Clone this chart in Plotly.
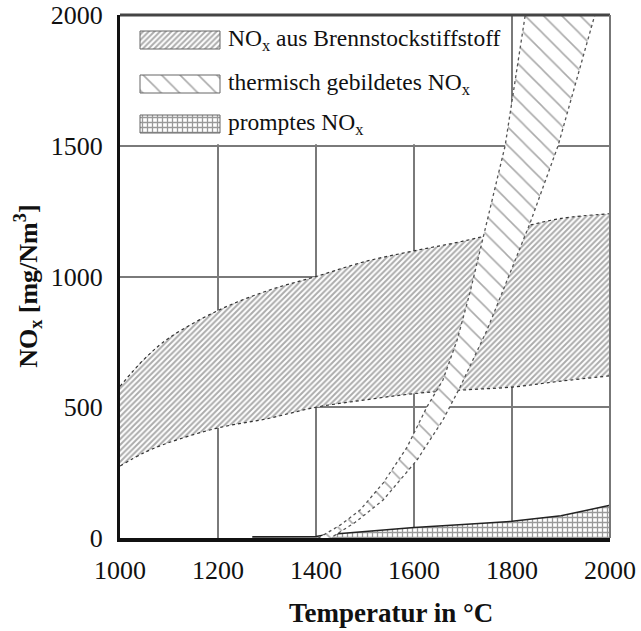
import plotly.graph_objects as go

# ---------------- data ----------------
fuel_T = [1000, 1050, 1100, 1200, 1300, 1400, 1500, 1600, 1700, 1800, 1900, 2000]
fuel_upper = [580, 685, 765, 870, 945, 1000, 1057, 1098, 1135, 1180, 1222, 1240]
fuel_lower = [275, 327, 365, 421, 456, 500, 528, 552, 566, 577, 600, 620]

thermal_hi_T = [1405, 1450, 1490, 1537, 1586, 1626, 1659, 1688, 1714, 1741, 1786, 1827, 1840]
thermal_hi = [0, 50, 107, 210, 348, 500, 604, 757, 937, 1151, 1500, 2000, 2150]
thermal_lo_T = [1430, 1480, 1537, 1606, 1659, 1694, 1749, 1782, 1837, 1894, 1969, 1990]
thermal_lo = [0, 60, 145, 298, 451, 577, 795, 948, 1205, 1500, 2000, 2150]

prompt_T = [1270, 1400, 1420, 1500, 1600, 1700, 1800, 1900, 1950, 2000]
prompt_val = [5, 6, 12, 24, 40, 52, 64, 85, 105, 125]

x_ticks = [1000, 1200, 1400, 1600, 1800, 2000]
y_ticks = [0, 500, 1000, 1500, 2000]

legend_labels = ["NO<sub>x</sub> aus Brennstockstiffstoff",
                 "thermisch gebildetes NO<sub>x</sub>",
                 "promptes NO<sub>x</sub>"]

FONT = "Liberation Serif"

pat_fuel = dict(shape="/", size=4, solidity=0.5, fgcolor="#5a5a5a", bgcolor="white")
pat_therm = dict(shape="\\", size=13, solidity=0.12, fgcolor="#555555", bgcolor="white")
pat_prompt = dict(shape="+", size=5, solidity=0.45, fgcolor="#333333", bgcolor="white")

fig = go.Figure()

# fuel NOx band
fig.add_trace(go.Scatter(x=fuel_T, y=fuel_lower, mode="lines",
                         line=dict(color="#333333", width=1.2, dash="dot", shape="spline"),
                         showlegend=False, hoverinfo="skip"))
fig.add_trace(go.Scatter(x=fuel_T, y=fuel_upper, mode="lines", fill="tonexty",
                         fillpattern=pat_fuel, fillcolor="white",
                         line=dict(color="#333333", width=1.2, dash="dot", shape="spline"),
                         showlegend=False, name="fuel"))

# prompt NOx
fig.add_trace(go.Scatter(x=prompt_T, y=prompt_val, mode="lines", fill="tozeroy",
                         fillpattern=pat_prompt, fillcolor="white",
                         line=dict(color="#222222", width=1.5),
                         showlegend=False, name="prompt"))

# thermal NOx band
therm_x = thermal_hi_T + thermal_lo_T[::-1]
therm_y = thermal_hi + thermal_lo[::-1]
fig.add_trace(go.Scatter(x=therm_x, y=therm_y, mode="lines", fill="toself",
                         fillpattern=pat_therm, fillcolor="white",
                         line=dict(color="#555555", width=1.3, dash="dot"),
                         showlegend=False, name="thermal"))

# ---------------- custom legend on overlay axes (pixel units of plot area) -------------
sw_x0, sw_x1 = 20, 100
rows = [25, 69, 109]
pats = [pat_fuel, pat_therm, pat_prompt]
for yc, pat, lab in zip(rows, pats, legend_labels):
    fig.add_trace(go.Scatter(x=[sw_x0, sw_x1, sw_x1, sw_x0, sw_x0],
                             y=[yc - 9, yc - 9, yc + 9, yc + 9, yc - 9],
                             xaxis="x2", yaxis="y2", mode="lines", fill="toself",
                             fillpattern=pat, fillcolor="white",
                             line=dict(color="#666666", width=1),
                             showlegend=False, hoverinfo="skip"))
    fig.add_annotation(x=106, y=yc, xref="x2", yref="y2", text=lab, showarrow=False,
                       xanchor="left", yanchor="middle",
                       font=dict(family=FONT, size=23.5, color="#111111"))

# white legend background (above grid, below traces)
fig.add_shape(type="rect", x0=1000, x1=1796, y0=1506, y1=2000, xref="x", yref="y",
              fillcolor="white", line=dict(width=0), layer="between")

# frame top / right
fig.add_shape(type="line", x0=0, x1=1, y0=1, y1=1, xref="paper", yref="paper",
              line=dict(color="#444444", width=3))
fig.add_shape(type="line", x0=1, x1=1, y0=0, y1=1, xref="paper", yref="paper",
              line=dict(color="#777777", width=2))

# axis titles
fig.add_annotation(x=-0.188, y=0.482, xref="paper", yref="paper", textangle=-90,
                   text="<b>NO<sub>x</sub> [mg/Nm<sup>3</sup>]</b>", showarrow=False,
                   xanchor="center", yanchor="middle",
                   font=dict(family=FONT, size=26, color="#111111"))
fig.add_annotation(x=0.553, y=-0.144, xref="paper", yref="paper",
                   text="<b>Temperatur in °C</b>", showarrow=False,
                   xanchor="center", yanchor="middle",
                   font=dict(family=FONT, size=27, color="#111111"))

fig.update_layout(
    width=641, height=631,
    margin=dict(l=120, r=31, t=15, b=93),
    paper_bgcolor="white", plot_bgcolor="white",
    xaxis=dict(range=[1000, 2000], tickvals=x_ticks, ticktext=[str(v) for v in x_ticks],
               showgrid=True, gridcolor="#7a7a7a", gridwidth=2, automargin=False,
               showline=True, linecolor="#111111", linewidth=4,
               ticks="", ticklabelstandoff=6, zeroline=False,
               tickfont=dict(family=FONT, size=26, color="#111111")),
    yaxis=dict(range=[0, 2000], tickvals=y_ticks, ticktext=[str(v) for v in y_ticks],
               showgrid=True, gridcolor="#7a7a7a", gridwidth=2, automargin=False,
               showline=True, linecolor="#111111", linewidth=3,
               ticks="", ticklabelstandoff=9, zeroline=False,
               tickfont=dict(family=FONT, size=26, color="#111111")),
    xaxis2=dict(overlaying="x", anchor="y2", range=[0, 490], visible=False, fixedrange=True,
                automargin=False),
    yaxis2=dict(overlaying="y", anchor="x2", range=[523, 0], visible=False, fixedrange=True,
                automargin=False),
    showlegend=False,
)

fig.write_html("out.html")
